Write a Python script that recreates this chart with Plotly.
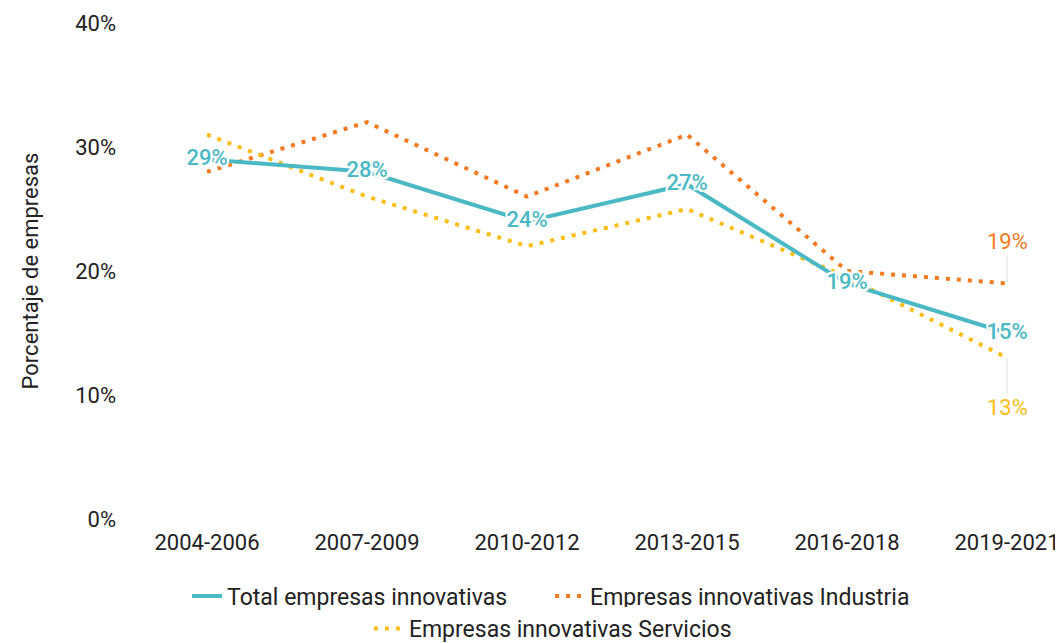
import plotly.graph_objects as go

periodos = ["2004-2006", "2007-2009", "2010-2012", "2013-2015", "2016-2018", "2019-2021"]
total = [29, 28, 24, 27, 19, 15]
industria = [28, 32, 26, 31, 20, 19]
servicios = [31, 26, 22, 25, 19.5, 13]

TEAL = "#4bb9c4"
NARANJA = "#f47a22"
AMARILLO = "#fbbd16"
FONT = "Roboto, Arial, sans-serif"
TXT = "#222222"

fig = go.Figure()

fig.add_trace(go.Scatter(
    x=periodos, y=industria, mode="lines", name="Empresas innovativas Industria",
    line=dict(color=NARANJA, width=4, dash="4px,7px"), legend="legend", legendrank=2,
))
fig.add_trace(go.Scatter(
    x=periodos, y=servicios, mode="lines", name="Empresas innovativas Servicios",
    line=dict(color=AMARILLO, width=4, dash="4px,7px"), legend="legend2",
))
# la serie total va al final para que sus etiquetas queden encima
fig.add_trace(go.Scatter(
    x=periodos, y=total, mode="lines+text", name="Total empresas innovativas",
    line=dict(color=TEAL, width=4), legend="legend", legendrank=1,
    text=[f"{v}%" for v in total], textposition="middle center",
    textfont=dict(color=TEAL, size=22, family=FONT, weight=500,
                  shadow="2px 0 0 white, -2px 0 0 white, 0 2px 0 white, 0 -2px 0 white, "
                         "2px 2px 0 white, -2px -2px 0 white, 2px -2px 0 white, -2px 2px 0 white"),
))

# etiquetas del último periodo con línea guía
fig.add_annotation(x=periodos[-1], y=industria[-1], text=f"{industria[-1]}%",
                   showarrow=True, arrowhead=0, arrowwidth=1, arrowcolor="#dddddd",
                   ax=0, ay=-42, font=dict(color=NARANJA, size=22, family=FONT))
fig.add_annotation(x=periodos[-1], y=servicios[-1], text=f"{servicios[-1]}%",
                   showarrow=True, arrowhead=0, arrowwidth=1, arrowcolor="#dddddd",
                   ax=0, ay=50, font=dict(color=AMARILLO, size=22, family=FONT))

fig.update_layout(
    width=1063, height=643,
    margin=dict(l=119, r=8, t=15, b=132),
    plot_bgcolor="white", paper_bgcolor="white",
    font=dict(family=FONT, size=22, color=TXT),
    showlegend=True,
    legend=dict(orientation="h", x=0.452, xanchor="center", yref="container", y=0.0855,
                yanchor="middle", font=dict(size=23, color=TXT), traceorder="normal",
                entrywidth=318),
    legend2=dict(orientation="h", x=0.455, xanchor="center", yref="container", y=0.035,
                 yanchor="middle", font=dict(size=23, color=TXT)),
)
fig.update_xaxes(type="category", range=[-0.5, 5.35], showgrid=False, showline=False,
                 zeroline=False, ticks="", automargin=False, ticklabelstandoff=8,
                 tickfont=dict(size=22, color=TXT))
fig.update_yaxes(range=[0, 40], tickmode="linear", tick0=0, dtick=10, ticksuffix="%",
                 showgrid=False, showline=False, zeroline=False, ticks="", automargin=False,
                 ticklabelstandoff=10,
                 title=dict(text="Porcentaje de empresas", standoff=30, font=dict(size=22)),
                 tickfont=dict(size=22, color=TXT))

fig.write_html("out.html")
